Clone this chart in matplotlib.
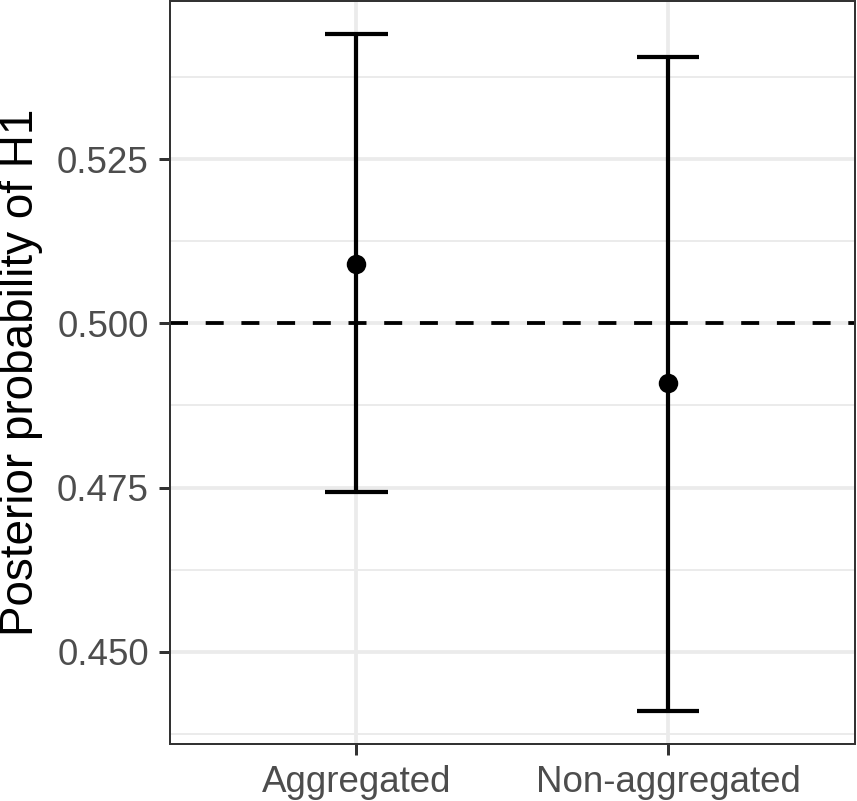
import matplotlib
matplotlib.use("Agg")
import matplotlib.pyplot as plt
from matplotlib.ticker import FixedLocator

categories = ["Aggregated", "Non-aggregated"]
estimate = [0.5091, 0.4909]
lower = [0.4743, 0.4409]
upper = [0.5440, 0.5405]
y_ticks = [0.450, 0.475, 0.500, 0.525]
y_tick_labels = ["0.450", "0.475", "0.500", "0.525"]
y_minor = [0.4375, 0.4625, 0.4875, 0.5125, 0.5375]
reference_line = 0.5
y_label = "Posterior probability of H1"

plt.rcParams['font.family'] = ['Liberation Sans', 'DejaVu Sans']
plt.rcParams['lines.scale_dashes'] = False

px = 72 / 100.0  # points per pixel at dpi 100

fig = plt.figure(figsize=(8.57, 8.01), dpi=100)
ax = fig.add_axes([169.5 / 857, 57 / 801, (855 - 169.5) / 857, (744 - 1) / 801])

x = list(range(1, len(categories) + 1))

# grid
for v in y_minor:
    ax.axhline(v, color="#EBEBEB", lw=2.0 * px, zorder=0)
for v in y_ticks:
    ax.axhline(v, color="#EBEBEB", lw=3.8 * px, zorder=0)
for v in x:
    ax.axvline(v, color="#EBEBEB", lw=3.8 * px, zorder=0)

# reference line
ax.axhline(reference_line, color="black", lw=3.8 * px,
           linestyle=(0, (18 * px, 17.7 * px)), zorder=2)

# error bars
cap_half = 0.1
lw_err = 4.2 * px
for xi, lo, hi in zip(x, lower, upper):
    ax.plot([xi, xi], [lo, hi], color="black", lw=lw_err, zorder=3,
            solid_capstyle="butt")
    ax.plot([xi - cap_half, xi + cap_half], [lo, lo], color="black", lw=lw_err,
            zorder=3, solid_capstyle="butt")
    ax.plot([xi - cap_half, xi + cap_half], [hi, hi], color="black", lw=lw_err,
            zorder=3, solid_capstyle="butt")
ax.plot(x, estimate, "o", color="black", markersize=19.5 * px, zorder=4,
        markeredgewidth=0)

ax.set_xlim(0.4, 2.6)
ax.set_ylim(0.43595, 0.5491)

ax.set_xticks(x)
ax.set_xticklabels(categories)
ax.yaxis.set_major_locator(FixedLocator(y_ticks))
ax.set_yticklabels(y_tick_labels)
ax.yaxis.set_minor_locator(FixedLocator([]))

ax.tick_params(axis="both", which="major", length=11 * px, width=3.0 * px,
               color="#333333", labelcolor="#4D4D4D", labelsize=26.5, pad=7.0)

for s in ax.spines.values():
    s.set_color("#333333")
    s.set_linewidth(2.0 * px)
    s.set_zorder(5)

ax.set_ylabel(y_label, fontsize=33, color="black")
ax.yaxis.set_label_coords((42.6 - 169.5) / 685.5, 0.5)

fig.savefig("out.png", dpi=100, facecolor="white")
